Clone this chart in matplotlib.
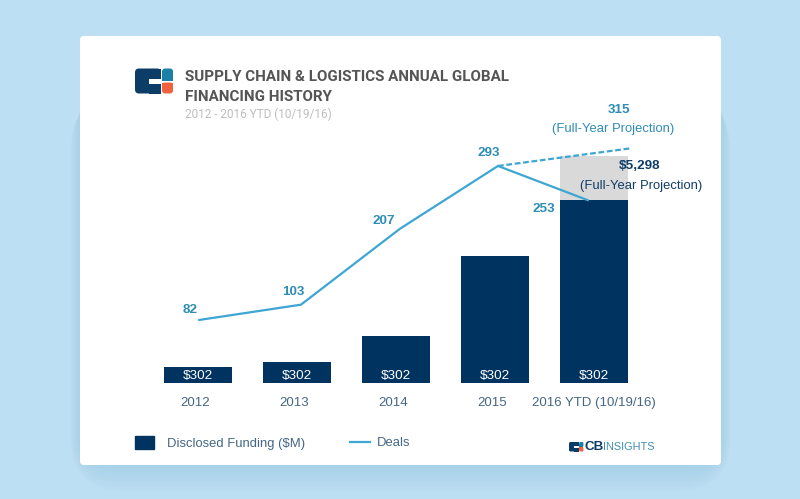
import matplotlib
matplotlib.use('Agg')
import matplotlib.pyplot as plt
from matplotlib.patches import FancyBboxPatch, Patch, Rectangle
from matplotlib.lines import Line2D

# values, bar labels in the source all say $302
years = ['2012', '2013', '2014', '2015', '2016 YTD (10/19/16)']
funding = [373, 490, 1097, 2964, 4271]
funding_labels = ['$302', '$302', '$302', '$302', '$302']
funding_projected = 5298
deals = [82, 103, 207, 293, 246]
deal_labels = ['82', '103', '207', '293', '253']
deals_projected = 317
# the line and the year labels do not sit exactly on the bar centres
deal_pos = [0.01, 1.04, 2.04, 3.03, 3.94]
tick_pos = [-0.03, 0.97, 1.97, 2.97, 4.0]
projected_pos = 4.36

NAVY = '#00335f'
TEAL = '#2e8db5'
LINE = '#3da6d2'
TICK = '#456685'
W, H = 800, 499


def px(x, y, w, h):
    return [x / W, 1 - (y + h) / H, w / W, h / H]


def pt(n):
    return n * 0.72


def rounded(a, x, y, w, h, r, **kw):
    a.add_patch(FancyBboxPatch((x + r, y + r), w - 2 * r, h - 2 * r,
                               boxstyle='round,pad=%g,rounding_size=%g' % (r, r),
                               linewidth=0, **kw))


def draw_logo(a, x, y, s):
    rounded(a, x, y, 26 * s, 25 * s, 4 * s, color='#0c3d66')
    a.add_patch(Rectangle((x + 14 * s, y), 12 * s, 25 * s, color='#0c3d66', lw=0))
    a.add_patch(Rectangle((x + 14 * s, y + 10 * s), 12 * s, 5 * s, color='white', lw=0))
    rounded(a, x + 27 * s, y, 11 * s, 12 * s, 3 * s, color='#1b7fa8')
    a.add_patch(Rectangle((x + 27 * s, y + 5 * s), 11 * s, 7 * s, color='#1b7fa8', lw=0))
    rounded(a, x + 27 * s, y + 14 * s, 11 * s, 11 * s, 3 * s, color='#f0623f')
    a.add_patch(Rectangle((x + 27 * s, y + 14 * s), 11 * s, 6 * s, color='#f0623f', lw=0))


fig = plt.figure(figsize=(8, 4.99), dpi=100, facecolor='#bddff3')

# page layer in pixel coordinates: card, shadow, logos, heading
bg = fig.add_axes([0, 0, 1, 1], zorder=0)
bg.set_xlim(0, W)
bg.set_ylim(H, 0)
bg.axis('off')
for grow in range(24, 0, -2):
    rounded(bg, 80 - grow * 0.4, 90 + grow * 0.3, 641 + grow * 0.8, 375 + grow * 0.8, 30 + grow,
            color='#8fbcd9', alpha=0.03)
rounded(bg, 80, 36, 641, 429, 4, color='white')

draw_logo(bg, 135, 68.5, 1)
bg.text(185, 77, 'SUPPLY CHAIN & LOGISTICS ANNUAL GLOBAL', family='Roboto', weight='bold',
        fontsize=10.9, color='#555555', va='center')
bg.text(185, 97, 'FINANCING HISTORY', family='Roboto', weight='bold',
        fontsize=10.9, color='#555555', va='center')
bg.text(185, 114.5, '2012 - 2016 YTD (10/19/16)', family='Roboto',
        fontsize=8.5, color='#bdbdbd', va='center')

draw_logo(bg, 569, 442, 0.38)
bg.text(584.5, 447, 'CB', family='Liberation Sans', weight='bold', fontsize=9.6,
        color='#0c3d66', va='center')
bg.text(603, 447, 'INSIGHTS', family='Liberation Sans', fontsize=7.8,
        color='#3f8fb5', va='center')

# chart: 99 px per category, 383 is the baseline
ax = fig.add_axes(px(148, 100, 512, 283), zorder=1)
ax.patch.set_alpha(0)
ax.set_xlim((148 - 198) / 99, (660 - 198) / 99)
ax.set_ylim(0, 283 * 23.34)
ax.bar(range(len(years)), funding, width=0.69, color=NAVY, zorder=2)
ax.bar(len(years) - 1, funding_projected - funding[-1], width=0.69, bottom=funding[-1],
       color='#d9d9d9', zorder=1)
ax.set_xticks(tick_pos)
ax.set_xticklabels(years, family='Liberation Sans', fontsize=9.5, color=TICK)
ax.tick_params(axis='x', length=0, pad=10)
ax.set_yticks([])
for s in ax.spines.values():
    s.set_visible(False)

for i, lab in enumerate(funding_labels):
    ax.annotate(lab, (i, 0), xytext=(0, pt(7.5)), textcoords='offset points', ha='center',
                va='center', family='Liberation Sans', fontsize=9.7, color='white', zorder=5)

ax.annotate('$%s' % format(funding_projected, ','), (4, funding_projected),
            xytext=(pt(46), pt(-10)), textcoords='offset points', ha='center', va='center',
            family='Liberation Sans', weight='bold', fontsize=9.7, color='#0f3d66',
            annotation_clip=False, zorder=6)
ax.annotate('(Full-Year Projection)', (4, funding_projected),
            xytext=(pt(47), pt(-30)), textcoords='offset points', ha='center', va='center',
            family='Liberation Sans', fontsize=9.4, color='#0f3d66',
            annotation_clip=False, zorder=6)

# deals use their own scale, 0.73 px per deal
ax2 = ax.twinx()
ax2.set_zorder(2)
ax2.patch.set_alpha(0)
ax2.set_ylim(82 - 63 / 0.73, 82 + 220 / 0.73)
ax2.set_yticks([])
for s in ax2.spines.values():
    s.set_visible(False)
ax2.plot(deal_pos, deals, color=LINE, lw=1.6, solid_capstyle='round')
ax2.plot([deal_pos[3], projected_pos], [deals[3], deals_projected], color=LINE, lw=1.6,
         ls=(0, (2.6, 1.2)))

label_off = [(-9, 10), (-8, 13), (-16, 8), (-9, 13), (-44, -9)]
for p, v, lab, off in zip(deal_pos, deals, deal_labels, label_off):
    ax2.annotate(lab, (p, v), xytext=(pt(off[0]), pt(off[1])), textcoords='offset points',
                 ha='center', va='center', family='Liberation Sans', weight='bold',
                 fontsize=9.7, color=TEAL)
ax2.annotate(str(315), (projected_pos, deals_projected), xytext=(pt(-11), pt(38)),
             textcoords='offset points', ha='center', va='center', family='Liberation Sans',
             weight='bold', fontsize=9.7, color=TEAL, annotation_clip=False)
ax2.annotate('(Full-Year Projection)', (projected_pos, deals_projected), xytext=(pt(-17), pt(19)),
             textcoords='offset points', ha='center', va='center', family='Liberation Sans',
             fontsize=9.4, color=TEAL, annotation_clip=False)

# two legends since the gap to the text differs between the entries
legend_font = {'family': 'Liberation Sans', 'size': 9.4}
fig.legend(handles=[Patch(color=NAVY, label='Disclosed Funding ($M)')], loc='center left',
           bbox_to_anchor=(135 / W, 1 - 443 / H), frameon=False, borderpad=0, borderaxespad=0,
           handlelength=1.47, handleheight=1.08, handletextpad=1.0, labelcolor=TICK, prop=legend_font)
fig.legend(handles=[Line2D([0], [0], color=LINE, lw=1.6, label='Deals')], loc='center left',
           bbox_to_anchor=(350 / W, 1 - 443 / H), frameon=False, borderpad=0, borderaxespad=0,
           handlelength=1.5, handletextpad=0.55, labelcolor=TICK, prop=legend_font)

fig.savefig('out.png', dpi=100, facecolor=fig.get_facecolor())
